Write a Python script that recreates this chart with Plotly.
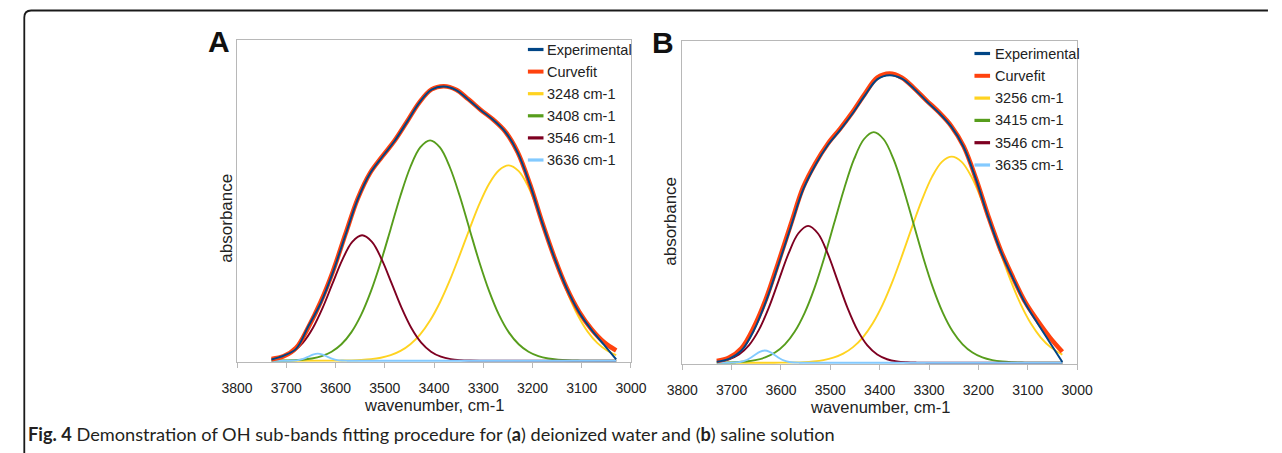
import plotly.graph_objects as go

W, H = 1282, 453

# ---------------- data ----------------
# broad curves (experimental spectrum and total fit), 25 cm-1 sampling
wavenumber = [3730, 3705, 3680, 3655, 3630, 3605, 3580, 3555, 3530, 3505,
              3480, 3455, 3430, 3405, 3380, 3355, 3330, 3305, 3280, 3255,
              3230, 3205, 3180, 3155, 3130, 3105, 3080, 3055, 3030]

series_names_a = ["Experimental", "Curvefit", "3248 cm-1", "3408 cm-1", "3546 cm-1", "3636 cm-1"]
series_names_b = ["Experimental", "Curvefit", "3256 cm-1", "3415 cm-1", "3546 cm-1", "3635 cm-1"]

# ---- Panel A: deionized water ----
a_experimental = [0.004, 0.016, 0.037, 0.108, 0.180, 0.277, 0.391, 0.503, 0.584, 0.636,
                  0.685, 0.744, 0.804, 0.845, 0.855, 0.844, 0.814, 0.781, 0.751, 0.713,
                  0.649, 0.549, 0.429, 0.319, 0.224, 0.150, 0.096, 0.050, 0.004]
a_curvefit = [0.005, 0.014, 0.040, 0.105, 0.184, 0.280, 0.394, 0.505, 0.585, 0.637,
              0.686, 0.745, 0.805, 0.846, 0.856, 0.845, 0.815, 0.782, 0.752, 0.714,
              0.650, 0.550, 0.430, 0.320, 0.225, 0.152, 0.098, 0.058, 0.032]

a_band_1_wn = [3730, 3608, 3588, 3568, 3548, 3528, 3508, 3488, 3468, 3448, 3428, 3408,
               3388, 3368, 3348, 3328, 3308, 3288, 3268, 3248, 3228, 3208, 3188, 3168,
               3148, 3128, 3108, 3088, 3068, 3048, 3030]
a_band_1 = [0.0, 0.0002, 0.0005, 0.0011, 0.0024, 0.0048, 0.0094, 0.0174, 0.0307, 0.0516,
            0.0824, 0.1254, 0.1816, 0.2504, 0.3285, 0.410, 0.488, 0.552, 0.594, 0.609,
            0.591, 0.541, 0.466, 0.378, 0.2895, 0.2087, 0.1418, 0.0908, 0.0548, 0.0311, 0.0178]

a_band_2_wn = [3730, 3708, 3688, 3668, 3648, 3628, 3608, 3588, 3568, 3548, 3528, 3508,
               3488, 3468, 3448, 3428, 3408, 3388, 3368, 3348, 3328, 3308, 3288, 3268,
               3248, 3228, 3208, 3188, 3168, 3148, 3128, 3108, 3088, 3030]
a_band_2 = [0.0002, 0.0005, 0.0013, 0.0031, 0.0068, 0.0142, 0.0279, 0.0513, 0.0884, 0.143,
            0.217, 0.308, 0.411, 0.515, 0.604, 0.665, 0.687, 0.665, 0.604, 0.515, 0.411,
            0.308, 0.217, 0.143, 0.0884, 0.0513, 0.0279, 0.0142, 0.0068, 0.0031, 0.0013,
            0.0005, 0.0002, 0.0]

a_band_3_wn = [3730, 3706, 3686, 3666, 3646, 3626, 3606, 3586, 3566, 3546, 3526, 3506,
               3486, 3466, 3446, 3426, 3406, 3386, 3366, 3346, 3326, 3306, 3030]
a_band_3 = [0.0041, 0.0125, 0.0281, 0.0565, 0.102, 0.1655, 0.2411, 0.3153, 0.3706, 0.391,
            0.3706, 0.3153, 0.2411, 0.1655, 0.102, 0.0565, 0.0281, 0.0125, 0.005, 0.0018,
            0.0006, 0.0002, 0.0]

a_band_4_wn = [3730, 3696, 3686, 3676, 3666, 3656, 3646, 3636, 3626, 3616, 3606, 3596,
               3586, 3576, 3030]
a_band_4 = [0.0, 0.0001, 0.0005, 0.0019, 0.0055, 0.0119, 0.0189, 0.022, 0.0189, 0.0119,
            0.0055, 0.0019, 0.0005, 0.0001, 0.0]

# ---- Panel B: saline solution ----
b_experimental = [0.003, 0.012, 0.038, 0.100, 0.192, 0.305, 0.422, 0.538, 0.615, 0.676,
                  0.723, 0.774, 0.830, 0.880, 0.893, 0.882, 0.850, 0.812, 0.776, 0.733,
                  0.670, 0.570, 0.452, 0.347, 0.262, 0.184, 0.122, 0.062, 0.002]
b_curvefit = [0.005, 0.016, 0.045, 0.110, 0.200, 0.313, 0.430, 0.545, 0.620, 0.680,
              0.727, 0.778, 0.835, 0.885, 0.898, 0.885, 0.852, 0.814, 0.778, 0.735,
              0.672, 0.572, 0.455, 0.350, 0.265, 0.188, 0.130, 0.078, 0.034]

b_band_1_wn = [3730, 3614, 3594, 3574, 3554, 3534, 3514, 3494, 3474, 3454, 3434, 3414,
               3394, 3374, 3354, 3334, 3314, 3294, 3274, 3254, 3234, 3214, 3194, 3174,
               3154, 3134, 3114, 3094, 3074, 3054, 3030]
b_band_1 = [0.0, 0.0001, 0.0004, 0.0009, 0.0019, 0.0041, 0.0081, 0.0155, 0.0281, 0.0484,
            0.079, 0.1226, 0.1805, 0.2525, 0.3356, 0.4234, 0.5073, 0.5772, 0.6237, 0.640,
            0.6237, 0.5772, 0.5073, 0.4234, 0.3356, 0.2525, 0.1805, 0.1226, 0.079, 0.0484, 0.0251]

b_band_2_wn = [3730, 3712, 3692, 3672, 3652, 3632, 3612, 3592, 3572, 3552, 3532, 3512,
               3492, 3472, 3452, 3432, 3412, 3392, 3372, 3352, 3332, 3312, 3292, 3272,
               3252, 3232, 3212, 3192, 3172, 3152, 3132, 3112, 3092, 3030]
b_band_2 = [0.0003, 0.0006, 0.0016, 0.0036, 0.008, 0.0163, 0.0315, 0.057, 0.0969, 0.1549,
            0.2325, 0.3278, 0.4343, 0.5404, 0.6319, 0.694, 0.716, 0.694, 0.6319, 0.5404,
            0.4343, 0.3278, 0.2325, 0.1549, 0.0969, 0.057, 0.0315, 0.0163, 0.008, 0.0036,
            0.0016, 0.0006, 0.0002, 0.0]

b_band_3_wn = [3730, 3705, 3685, 3665, 3645, 3625, 3605, 3585, 3565, 3545, 3525, 3505,
               3485, 3465, 3445, 3425, 3405, 3385, 3365, 3345, 3325, 3305, 3030]
b_band_3 = [0.0031, 0.0108, 0.0255, 0.0537, 0.1011, 0.1695, 0.2534, 0.3377, 0.4012, 0.425,
            0.4012, 0.3377, 0.2534, 0.1695, 0.1011, 0.0537, 0.0255, 0.0108, 0.004, 0.0014,
            0.0004, 0.0001, 0.0]

b_band_4_wn = [3730, 3703, 3693, 3683, 3673, 3663, 3653, 3643, 3633, 3623, 3613, 3603,
               3593, 3583, 3573, 3563, 3030]
b_band_4 = [0.0, 0.0001, 0.0006, 0.0022, 0.0062, 0.0137, 0.0241, 0.0339, 0.038, 0.0339,
            0.0241, 0.0137, 0.0062, 0.0022, 0.0006, 0.0001, 0.0]

x_tick_values = [3800, 3700, 3600, 3500, 3400, 3300, 3200, 3100, 3000]
x_tick_labels = ["3800", "3700", "3600", "3500", "3400", "3300", "3200", "3100", "3000"]

panel_labels = ["A", "B"]
x_title = "wavenumber, cm-1"
y_title = "absorbance"
caption = ("<b>Fig. 4</b> Demonstration of OH sub-bands fitting procedure for "
           "(<b>a</b>) deionized water and (<b>b</b>) saline solution")

# ---------------- styling ----------------
COLORS = ["#004586", "#ff420e", "#ffd320", "#579d1c", "#7e0021", "#83caff"]
WIDTHS = [2.0, 4.6, 1.9, 1.9, 1.9, 1.9]
FONT = "Liberation Sans, Arial, sans-serif"
TXT = "#222222"
AXC = "#b8b8b8"


def px(x):
    return x / W


def py(y):
    return 1 - y / H


panels = [
    dict(xd=(226.7, 630.7), yd=(40.0, 362.0),
         series=[(wavenumber, a_experimental), (wavenumber, a_curvefit), (a_band_1_wn, a_band_1),
                 (a_band_2_wn, a_band_2), (a_band_3_wn, a_band_3), (a_band_4_wn, a_band_4)],
         names=series_names_a, xa="x", ya="y", leg_x=(525, 541), leg_tx=543, leg_y0=49.5, leg_dy=22.1,
         lab=(208.5, 41), ytitle_x=215, ytitle_y=218, xtitle_y=404.5),
    dict(xd=(683.3, 1088.3), yd=(40.7, 364.0),
         series=[(wavenumber, b_experimental), (wavenumber, b_curvefit), (b_band_1_wn, b_band_1),
                 (b_band_2_wn, b_band_2), (b_band_3_wn, b_band_3), (b_band_4_wn, b_band_4)],
         names=series_names_b, xa="x2", ya="y2", leg_x=(983, 999), leg_tx=1001.5, leg_y0=53.5, leg_dy=22.3,
         lab=(664, 42), ytitle_x=670.5, ytitle_y=221, xtitle_y=406.5),
]

fig = go.Figure()
shapes = []
annotations = []

draw_order = [2, 3, 4, 5, 1, 0]
for i, p in enumerate(panels):
    for k in draw_order:
        xs, ys = p["series"][k]
        fig.add_trace(go.Scatter(
            x=xs, y=ys, mode="lines", name=p["names"][k],
            line=dict(color=COLORS[k], width=WIDTHS[k], shape="spline", smoothing=1.0),
            xaxis=p["xa"], yaxis=p["ya"], showlegend=False, hoverinfo="skip"))

    # legend (drawn manually to match the short line samples)
    for k, name in enumerate(p["names"]):
        yy = p["leg_y0"] + k * p["leg_dy"]
        shapes.append(dict(type="line", xref="paper", yref="paper",
                           x0=px(p["leg_x"][0]), x1=px(p["leg_x"][1]), y0=py(yy), y1=py(yy),
                           line=dict(color=COLORS[k], width=3.2 if k != 1 else 4)))
        annotations.append(dict(text=name, xref="paper", yref="paper", x=px(p["leg_tx"]), y=py(yy),
                                xanchor="left", yanchor="middle", showarrow=False,
                                font=dict(family=FONT, size=14.5, color=TXT)))
    # panel letter
    annotations.append(dict(text="<b>%s</b>" % panel_labels[i], xref="paper", yref="paper",
                            x=px(p["lab"][0]), y=py(p["lab"][1]), xanchor="center", yanchor="middle",
                            showarrow=False, font=dict(family=FONT, size=30, color="#111111")))
    # axis titles
    cx = (p["xd"][0] + p["xd"][1]) / 2
    annotations.append(dict(text=x_title, xref="paper", yref="paper", x=px(cx), y=py(p["xtitle_y"]),
                            xanchor="center", yanchor="middle", showarrow=False,
                            font=dict(family=FONT, size=16.5, color=TXT)))
    annotations.append(dict(text=y_title, xref="paper", yref="paper", x=px(p["ytitle_x"]), y=py(p["ytitle_y"]),
                            xanchor="center", yanchor="middle", showarrow=False, textangle=-90,
                            font=dict(family=FONT, size=17, color=TXT)))

axis_common_x = dict(range=[3800, 3000], tickvals=x_tick_values, ticktext=x_tick_labels,
                     ticks="outside", ticklen=5, tickwidth=1, tickcolor=AXC,
                     showline=True, linecolor=AXC, linewidth=1, mirror=True,
                     showgrid=False, zeroline=False, layer="below traces",
                     ticklabelstandoff=8,
                     tickfont=dict(family=FONT, size=14, color=TXT))
axis_common_y = dict(range=[-0.004, 1.0], showticklabels=False, ticks="",
                     showline=True, linecolor=AXC, linewidth=1, mirror=True,
                     showgrid=False, zeroline=False, layer="below traces")

pa, pb = panels
fig.update_layout(
    xaxis=dict(domain=[px(pa["xd"][0]), px(pa["xd"][1])], anchor="y", **axis_common_x),
    yaxis=dict(domain=[py(pa["yd"][1]), py(pa["yd"][0])], anchor="x", **axis_common_y),
    xaxis2=dict(domain=[px(pb["xd"][0]), px(pb["xd"][1])], anchor="y2", **axis_common_x),
    yaxis2=dict(domain=[py(pb["yd"][1]), py(pb["yd"][0])], anchor="x2", **axis_common_y),
)

# outer frame (rounded top-left corner, open at right and bottom)
x0, y0, r = 8.5, 10.5, 7
path = "M %f,%f L %f,%f Q %f,%f %f,%f L %f,%f" % (
    px(x0), py(H + 2), px(x0), py(y0 + r), px(x0), py(y0), px(x0 + r), py(y0), px(W + 2), py(y0))
shapes.append(dict(type="path", xref="paper", yref="paper", path=path,
                   line=dict(color="#1a1a1a", width=1.8)))

annotations.append(dict(text=caption, xref="paper", yref="paper", x=px(10), y=py(434),
                        xanchor="left", yanchor="middle", showarrow=False,
                        font=dict(family="Lato, sans-serif", size=18.2, color="#231f20")))

fig.update_layout(
    width=W, height=H, margin=dict(l=0, r=0, t=0, b=0),
    paper_bgcolor="white", plot_bgcolor="white",
    showlegend=False, shapes=shapes, annotations=annotations,
)

fig.write_html("out.html")
